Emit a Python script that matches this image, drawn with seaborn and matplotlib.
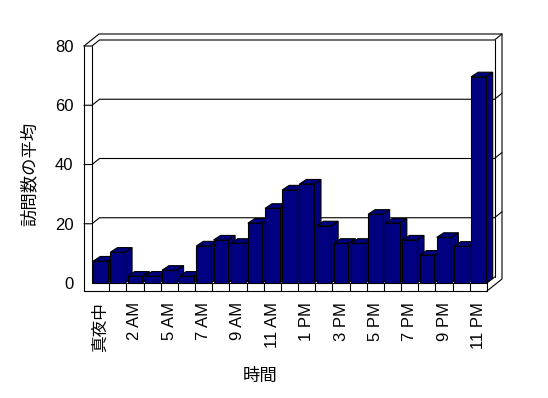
import matplotlib
matplotlib.use("Agg")
import matplotlib.pyplot as plt
import seaborn as sns
import pandas as pd
from matplotlib.patches import Polygon, Rectangle

hours = ["真夜中", "1 AM", "2 AM", "3 AM", "5 AM", "6 AM", "7 AM", "8 AM", "9 AM",
         "10 AM", "11 AM", "正午", "1 PM", "2 PM", "3 PM", "4 PM", "5 PM", "6 PM",
         "7 PM", "8 PM", "9 PM", "10 PM", "11 PM"]
visits = [7.4, 10.4, 2.3, 2.3, 4.3, 2.3, 12.5, 14.5, 13.4, 20.2, 25.2, 31.4, 33.4,
          19.3, 13.4, 13.4, 23.2, 20.2, 14.5, 9.4, 15.4, 12.4, 69.6]
yticks = [0, 20, 40, 60, 80]
xlabel = "時間"
ylabel = "訪問数の平均"

NAVY = "#000080"

sns.set_theme(style="white")
plt.rcParams["font.family"] = ["Liberation Sans", "Noto Sans CJK JP", "DejaVu Sans"]

W, H = 548, 398
fig = plt.figure(figsize=(W / 100, H / 100), dpi=100)
fig.patch.set_facecolor("white")

# background axes in pixel coordinates (y down) for the 3D box
bg = fig.add_axes([0, 0, 1, 1])
bg.set_xlim(0, W)
bg.set_ylim(H, 0)
bg.axis("off")
bg.set_zorder(0)

x_left, x_right, y_base, y_top = 92, 487, 283, 46
ax = fig.add_axes([x_left / W, (H - y_base) / H, (x_right - x_left) / W, (y_base - y_top) / H])
ax.set_zorder(1)
ax.patch.set_visible(False)

df = pd.DataFrame({"hour": hours, "visits": visits})
sns.barplot(data=df, x="hour", y="visits", order=hours, ax=ax, color=NAVY,
            saturation=1, width=0.85, edgecolor="black", linewidth=0.8)
ax.set_xlim(-0.5, len(hours) - 0.5)
ax.set_ylim(yticks[0], yticks[-1])
for s in ax.spines.values():
    s.set_visible(False)
ax.grid(False)

def to_px(pts):
    return bg.transData.inverted().transform(ax.transData.transform(pts))

lw = 0.8
dx, dy = 7.5, -6.0   # wall depth (pixels, y down)
# left wall front face
bg.add_patch(Rectangle((84, y_top), x_left - 84, 291 - y_top, fc="white", ec="none", zorder=1))
bg.plot([84, 84], [y_top, 291], color="black", lw=lw, zorder=2)
bg.plot([x_left, x_left], [y_top, y_base], color="black", lw=lw, zorder=2)
# outer top edges
bg.plot([84, 84 + 2 * dx, x_right + 2 * dx, x_right + 2 * dx, x_right],
        [y_top, y_top + 2 * dy, y_top + 2 * dy, 291 + 2 * dy, 291], color="black", lw=lw, zorder=2)
# gridlines on left wall and back wall
for v in yticks[1:]:
    yp = to_px([(0, v)])[0][1]
    bg.plot([84, x_left, x_left + dx, x_right + dx, x_right + 2 * dx],
            [yp, yp, yp + dy, yp + dy, yp + 2 * dy], color="black", lw=lw, zorder=2)
# back wall right inner edge
bg.plot([x_right + dx, x_right + dx], [y_top + dy, y_base + dy], color="black", lw=lw, zorder=2)
# floor
bg.add_patch(Rectangle((84, y_base), x_right - 84, 291 - y_base, fc="white", ec="none", zorder=1))
bg.plot([x_left, x_right, x_right], [y_base, y_base, 291], color="black", lw=lw, zorder=2)
bg.plot([84, x_right], [291, 291], color="black", lw=lw, zorder=2)
bg.plot([x_right, x_right + dx], [y_base, y_base + dy], color="black", lw=lw, zorder=2)
for k in range(1, len(hours)):
    xp = to_px([(k - 0.5, 0)])[0][0]
    bg.plot([xp, xp], [y_base, 291], color="black", lw=lw, zorder=2)

# bar side and top faces
bdx, bdy = 7.0, -4.6
for i, p in enumerate(ax.patches):
    x0, w, h = p.get_x(), p.get_width(), p.get_height()
    (lx, by), (rx, ty) = to_px([(x0, 0), (x0 + w, h)])
    side = [(rx, by), (rx + bdx, by + bdy), (rx + bdx, ty + bdy), (rx, ty)]
    top = [(lx, ty), (rx, ty), (rx + bdx, ty + bdy), (lx + bdx, ty + bdy)]
    bg.add_patch(Polygon(side, closed=True, fc=NAVY, ec="black", lw=lw, zorder=5 + i))
    bg.add_patch(Polygon(top, closed=True, fc=NAVY, ec="black", lw=lw, zorder=5 + i))

ax.set_yticks(yticks)
ax.set_yticklabels([str(v) for v in yticks])
ax.tick_params(axis="y", length=0, pad=13.5, labelsize=12, colors="black")
ax.set_xticks(range(0, len(hours), 2))
ax.set_xticklabels(hours[::2], rotation=90, ha="center", va="top")
ax.tick_params(axis="x", length=0, pad=13.5, labelsize=12, colors="black")
ax.set_xlabel("")
ax.set_ylabel("")

fig.text(29 / W, 1 - 174 / H, ylabel, rotation=90, ha="center", va="center", fontsize=12.5, color="black")
fig.text(260 / W, 1 - 375.5 / H, xlabel, ha="center", va="center", fontsize=12.5, color="black")

fig.savefig("out.png", dpi=100, facecolor="white")
